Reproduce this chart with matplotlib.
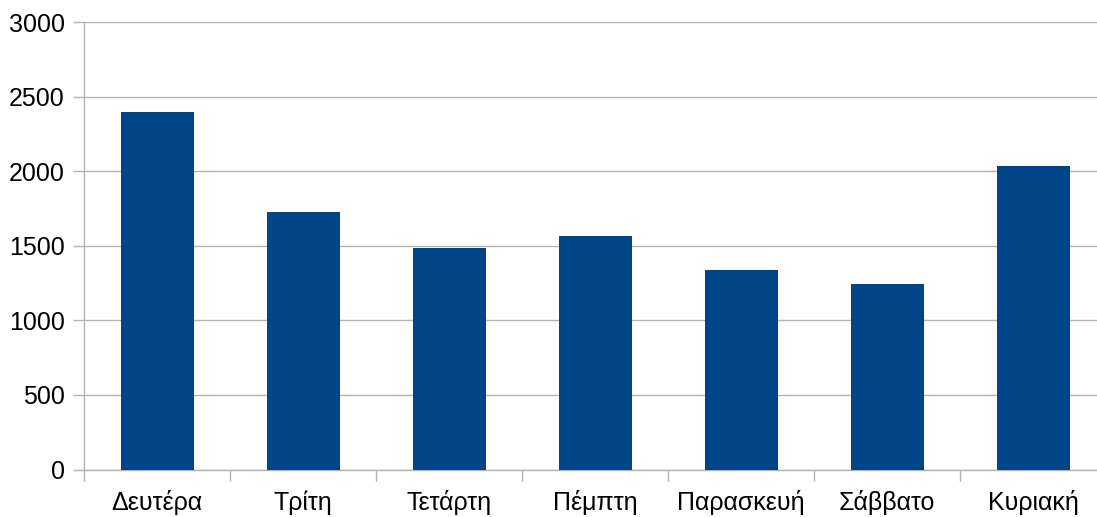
import matplotlib
matplotlib.use('Agg')
import matplotlib.pyplot as plt
import numpy as np

# data
days = ['Δευτέρα', 'Τρίτη', 'Τετάρτη', 'Πέμπτη', 'Παρασκευή', 'Σάββατο', 'Κυριακή']
values = [2395, 1725, 1484, 1565, 1337, 1243, 2033]
yticks = [0, 500, 1000, 1500, 2000, 2500, 3000]

plt.rcParams['font.family'] = ['Liberation Sans', 'DejaVu Sans']

W, H = 1097, 517
fig = plt.figure(figsize=[W / 100, H / 100], dpi=100)
# plot area runs a little past the right edge of the picture
ax = fig.add_axes([84 / W, 47.4 / H, 1022 / W, 447.6 / H])

grey = '#b3b3b3'
x = np.arange(len(days))
ax.bar(x, values, width=0.5, color='#004586', zorder=3)

ax.set_xlim(-0.5, len(days) - 0.5)
ax.set_ylim(0, 3000)
ax.set_yticks(yticks)
ax.yaxis.grid(True, color=grey, linewidth=1.0, zorder=0)

ax.set_xticks(x)
ax.set_xticklabels(days)
ax.set_xticks(np.arange(len(days) + 1) - 0.5, minor=True)
ax.tick_params(axis='x', which='major', length=0, pad=15, labelsize=18)
ax.tick_params(axis='x', which='minor', length=8, width=1, color=grey)
ax.tick_params(axis='y', length=8, width=1, color=grey, pad=6, labelsize=18)

for s in ['top', 'right']:
    ax.spines[s].set_visible(False)
for s in ['left', 'bottom']:
    ax.spines[s].set_color(grey)
    ax.spines[s].set_linewidth(1.0)

fig.savefig('out.png', dpi=100)
